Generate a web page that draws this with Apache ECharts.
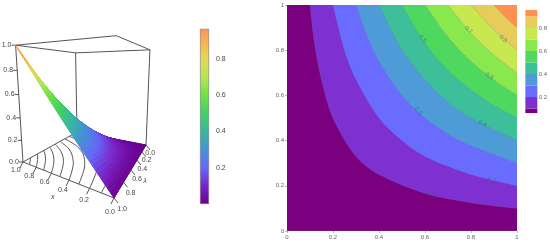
<!DOCTYPE html>
<html style="height: 100%">
<head>
<meta charset="utf-8">
<script type="text/javascript" src="https://cdn.jsdelivr.net/npm/echarts/dist/echarts.min.js"></script>
</head>
<body style="height: 100%; margin: 0; background: #fff">
<div id="main" style="width: 550px; height: 243px"></div>
<script type="text/javascript">
// values
var gridSteps = [0, 0.1, 0.2, 0.3, 0.4, 0.5, 0.6, 0.7, 0.8, 0.9, 1];
// surface height, rows = x, columns = y
var surfaceZ = [
  [0, 0, 0, 0, 0, 0, 0, 0, 0, 0, 0],
  [0, 0.01, 0.02, 0.03, 0.04, 0.05, 0.06, 0.07, 0.08, 0.09, 0.1],
  [0, 0.02, 0.04, 0.06, 0.08, 0.1, 0.12, 0.14, 0.16, 0.18, 0.2],
  [0, 0.03, 0.06, 0.09, 0.12, 0.15, 0.18, 0.21, 0.24, 0.27, 0.3],
  [0, 0.04, 0.08, 0.12, 0.16, 0.2, 0.24, 0.28, 0.32, 0.36, 0.4],
  [0, 0.05, 0.1, 0.15, 0.2, 0.25, 0.3, 0.35, 0.4, 0.45, 0.5],
  [0, 0.06, 0.12, 0.18, 0.24, 0.3, 0.36, 0.42, 0.48, 0.54, 0.6],
  [0, 0.07, 0.14, 0.21, 0.28, 0.35, 0.42, 0.49, 0.56, 0.63, 0.7],
  [0, 0.08, 0.16, 0.24, 0.32, 0.4, 0.48, 0.56, 0.64, 0.72, 0.8],
  [0, 0.09, 0.18, 0.27, 0.36, 0.45, 0.54, 0.63, 0.72, 0.81, 0.9],
  [0, 0.1, 0.2, 0.3, 0.4, 0.5, 0.6, 0.7, 0.8, 0.9, 1]
];
// contour curves [x, y]
var contour0 = [[0, 0], [1, 0]];
var contour1 = [[0.1, 1], [0.12, 0.83], [0.15, 0.67], [0.2, 0.5], [0.3, 0.33], [0.4, 0.25], [0.6, 0.167], [0.8, 0.125], [1, 0.1]];
var contour2 = [[0.2, 1], [0.25, 0.8], [0.3, 0.67], [0.4, 0.5], [0.5, 0.4], [0.6, 0.33], [0.8, 0.25], [1, 0.2]];
var contour3 = [[0.3, 1], [0.35, 0.86], [0.4, 0.75], [0.5, 0.6], [0.6, 0.5], [0.75, 0.4], [1, 0.3]];
var contour4 = [[0.4, 1], [0.5, 0.8], [0.6, 0.67], [0.7, 0.57], [0.8, 0.5], [1, 0.4]];
var contour5 = [[0.5, 1], [0.6, 0.83], [0.7, 0.71], [0.8, 0.625], [0.9, 0.555], [1, 0.5]];
var contour6 = [[0.6, 1], [0.7, 0.857], [0.8, 0.75], [0.9, 0.667], [1, 0.6]];
var contour7 = [[0.7, 1], [0.8, 0.875], [0.9, 0.778], [1, 0.7]];
var contour8 = [[0.8, 1], [0.9, 0.89], [1, 0.8]];
var contour9 = [[0.9, 1], [0.95, 0.947], [1, 0.9]];
var contours = [contour0, contour1, contour2, contour3, contour4, contour5, contour6, contour7, contour8, contour9];
var contourLabels = [[0.63, 0.16, '0.1'], [0.89, 0.225, '0.2'], [0.57, 0.53, '0.3'], [0.85, 0.475, '0.4'], [0.59, 0.85, '0.5'], [0.88, 0.685, '0.6'], [0.79, 0.89, '0.7'], [0.94, 0.85, '0.8']];
var tickValues = [0, 0.2, 0.4, 0.6, 0.8, 1];
var barBands = [0.06, 0.1, 0.2, 0.3, 0.4, 0.5, 0.6, 0.7, 0.8, 0.9, 0.957];
var colorbarTop = 0.965;

// colours
var bandColors = ['#7a0080', '#7f30d0', '#6a6cff', '#4f9bd8', '#3dc09a', '#4fd860', '#88e84e', '#c8e850', '#e6cc5a', '#ff9050'];
var ramp = ['#6b0090', '#7a25c8', '#6468f8', '#4593d4', '#38b8a0', '#44d068', '#70e045', '#b8e650', '#e4d858', '#f8b050', '#ff9050'];
var labelRot = [-15, -12, -50, -28, -50, -35, -40, -40];

var dom = document.getElementById('main');
var myChart = echarts.init(dom, null, { renderer: 'canvas' });

// perspective of the 3d box, fitted to its corners on screen
var O3 = [146, 145, 1], U3 = [-47.6, 23.7, 0.278], V3 = [-78.4, -27.6, -0.407], W3 = [-7.6, -99, -0.077], T3 = [0, -6.2, 0];
function project(x, y, z) {
  var h = [0, 1, 2].map(function (k) {
    return O3[k] + x * U3[k] + y * V3[k] + z * W3[k] + x * z * T3[k];
  });
  return [h[0] / h[2], h[1] / h[2]];
}
function colorOf(z) {
  return echarts.color.lerp(Math.min(z, 1), ramp);
}

var boxEdges = [
  [[1, 1, 0], [1, 0, 0]], [[1, 0, 0], [0, 0, 0]], [[1, 1, 0], [0, 1, 0]], [[0, 1, 0], [0, 0, 0]],
  [[1, 1, 0], [1, 1, 1]], [[1, 0, 0], [1, 0, 1]], [[0, 0, 0], [0, 0, 1]],
  [[1, 1, 1], [1, 0, 1]], [[1, 0, 1], [0, 0, 1]], [[0, 0, 1], [0, 1, 1]], [[0, 1, 1], [1, 1, 1]]
];
var lineStyle3d = { stroke: '#555', lineWidth: 1, fill: null };

function renderBox(params, api) {
  var e = boxEdges[params.dataIndex];
  var a = project(e[0][0], e[0][1], e[0][2]), b = project(e[1][0], e[1][1], e[1][2]);
  a = api.coord(a); b = api.coord(b);
  return { type: 'line', shape: { x1: a[0], y1: a[1], x2: b[0], y2: b[1] }, style: lineStyle3d };
}

function renderFloor(params, api) {
  var pts = contours[params.dataIndex + 1].map(function (p) {
    return api.coord(project(p[0], p[1], 0));
  });
  return { type: 'polyline', shape: { points: pts, smooth: 0.4 }, style: lineStyle3d };
}

// each table cell is shaded in small pieces so the colour runs smoothly
var SUB = 4;
function renderCell(params, api) {
  var i = api.value(0), j = api.value(1), kids = [];
  var z00 = surfaceZ[i][j], z10 = surfaceZ[i + 1][j], z01 = surfaceZ[i][j + 1], z11 = surfaceZ[i + 1][j + 1];
  var x0 = gridSteps[i], x1 = gridSteps[i + 1], y0 = gridSteps[j], y1 = gridSteps[j + 1];
  function pt(a, b) {
    var z = (1 - a) * (1 - b) * z00 + a * (1 - b) * z10 + (1 - a) * b * z01 + a * b * z11;
    return api.coord(project(x0 + a * (x1 - x0), y0 + b * (y1 - y0), z));
  }
  for (var m = SUB - 1; m >= 0; m--) {
    for (var n = 0; n < SUB; n++) {
      var a = m / SUB, b = n / SUB, d = 1 / SUB;
      var zm = (1 - a - d / 2) * (1 - b - d / 2) * z00 + (a + d / 2) * (1 - b - d / 2) * z10 + (1 - a - d / 2) * (b + d / 2) * z01 + (a + d / 2) * (b + d / 2) * z11;
      var c = colorOf(zm);
      kids.push({
        type: 'polygon',
        shape: { points: [pt(a, b), pt(a + d, b), pt(a + d, b + d), pt(a, b + d)] },
        style: { fill: c, stroke: c, lineWidth: 1, lineJoin: 'round' }
      });
    }
  }
  return { type: 'group', children: kids };
}

// axis ticks and labels of the 3d box
var ticks3d = [];
tickValues.forEach(function (v) {
  ticks3d.push({ from: [v, 1, 0], to: [-3, 6], at: [v, 1.12, 0], dx: 3, dy: 2, text: v.toFixed(1) });
  ticks3d.push({ from: [0, v, 0], to: [4, 5], at: [-0.08, v, 0], dx: -3, dy: 7, text: v.toFixed(1) });
  ticks3d.push({ from: [1, 1, v], to: [-4, 0], at: [1, 1, v], dx: -9, dy: 0, text: v.toFixed(1) });
});
function renderTick(params, api) {
  var t = ticks3d[params.dataIndex];
  var a = api.coord(project(t.from[0], t.from[1], t.from[2]));
  var l = api.coord(project(t.at[0], t.at[1], t.at[2]));
  return {
    type: 'group',
    children: [
      { type: 'line', shape: { x1: a[0], y1: a[1], x2: a[0] + t.to[0], y2: a[1] + t.to[1] }, style: lineStyle3d },
      { type: 'text', x: l[0] + t.dx, y: l[1] + t.dy, style: { text: t.text, fill: '#444', font: '7px "Liberation Sans"', align: 'center', verticalAlign: 'middle' } }
    ]
  };
}
var titles3d = [
  { at: [0.5, 1, 0], dx: -7, dy: 20, text: 'x' },
  { at: [0, 0.6, 0], dx: 14, dy: 11, text: 'λ' }
];
function renderTitle(params, api) {
  var t = titles3d[params.dataIndex];
  var l = api.coord(project(t.at[0], t.at[1], t.at[2]));
  return { type: 'text', x: l[0] + t.dx, y: l[1] + t.dy, style: { text: t.text, fill: '#444', font: 'italic 7px "Liberation Sans"', align: 'center', verticalAlign: 'middle' } };
}

var cells = [];
for (var i = gridSteps.length - 2; i >= 0; i--) {
  for (var j = 0; j < gridSteps.length - 1; j++) cells.push([i, j]);
}

var series = [
  { type: 'custom', xAxisIndex: 0, yAxisIndex: 0, clip: false, silent: true, renderItem: renderBox, data: boxEdges.map(function (e, k) { return [k]; }), z: 2 },
  { type: 'custom', xAxisIndex: 0, yAxisIndex: 0, clip: false, silent: true, renderItem: renderFloor, data: contours.slice(1).map(function (e, k) { return [k]; }), z: 2 },
  { type: 'custom', xAxisIndex: 0, yAxisIndex: 0, clip: false, silent: true, renderItem: renderTick, data: ticks3d.map(function (e, k) { return [k]; }), z: 2 },
  { type: 'custom', xAxisIndex: 0, yAxisIndex: 0, clip: false, silent: true, renderItem: renderTitle, data: titles3d.map(function (e, k) { return [k]; }), z: 2 },
  { type: 'custom', xAxisIndex: 0, yAxisIndex: 0, clip: false, silent: true, renderItem: renderCell, data: cells, encode: { x: 0, y: 1 }, z: 3 },
  // continuous colour bar
  {
    type: 'bar', xAxisIndex: 1, yAxisIndex: 1, barWidth: 9, silent: true,
    data: [colorbarTop],
    itemStyle: {
      borderColor: '#777', borderWidth: 0.6,
      color: new echarts.graphic.LinearGradient(0, 1, 0, 0, ramp.map(function (c, k) {
        return { offset: Math.min(gridSteps[k] / colorbarTop, 1), color: c };
      }))
    }
  }
];

// filled contour bands, each one painted from its curve up to the top edge
contours.forEach(function (c, k) {
  series.push({
    type: 'line', xAxisIndex: 2, yAxisIndex: 2, data: c, smooth: 0.3, showSymbol: false, silent: true,
    lineStyle: { width: 0.6, color: 'rgba(120,120,170,0.45)' },
    areaStyle: { origin: 'end', color: bandColors[k], opacity: 1 },
    z: 2 + k * 0.01
  });
});
series.push({
  type: 'scatter', xAxisIndex: 2, yAxisIndex: 2, symbolSize: 0, silent: true, z: 5,
  data: contourLabels.map(function (l, k) {
    return {
      value: [l[0], l[1]],
      label: { show: true, position: 'inside', formatter: l[2], rotate: labelRot[k], color: 'rgba(50,90,130,0.85)', fontSize: 6, fontFamily: 'Liberation Sans' }
    };
  })
});

// discrete colour bar of the contour plot
series.push({
  type: 'custom', xAxisIndex: 3, yAxisIndex: 3, silent: true, clip: false, z: 3,
  data: bandColors.map(function (c, k) { return [0, barBands[k], barBands[k + 1], k]; }),
  renderItem: function (params, api) {
    var lo = api.coord([0, api.value(1)]), hi = api.coord([0, api.value(2)]);
    return {
      type: 'rect',
      shape: { x: lo[0] - 6, y: hi[1], width: 12, height: lo[1] - hi[1] },
      style: { fill: bandColors[api.value(3)] }
    };
  },
  encode: { x: 0, y: [1, 2] }
});

var axisGrey = { color: '#666', fontSize: 6, fontFamily: 'Liberation Sans' };
var option = {
  animation: false,
  backgroundColor: '#fff',
  grid: [
    { left: 0, top: 0, width: 550, height: 243 },
    { left: 200, top: 22.5, width: 9, height: 181.5 },
    { left: 287, top: 5, width: 230, height: 226 },
    { left: 526, top: 5, width: 12, height: 115 }
  ],
  xAxis: [
    { gridIndex: 0, type: 'value', min: 0, max: 550, show: false },
    { gridIndex: 1, type: 'category', data: [''], show: false },
    {
      gridIndex: 2, type: 'value', min: 0, max: 1, interval: 0.2,
      splitLine: { show: false },
      axisLine: { show: false },
      axisTick: { length: 2, lineStyle: { color: '#888', width: 0.6 } },
      axisLabel: Object.assign({ margin: 3, formatter: function (v) { return String(+v.toFixed(1)); } }, axisGrey)
    },
    { gridIndex: 3, type: 'value', min: -1, max: 1, show: false }
  ],
  yAxis: [
    { gridIndex: 0, type: 'value', min: 0, max: 243, inverse: true, show: false },
    {
      gridIndex: 1, type: 'value', position: 'right', min: 0, max: 1, interval: 0.2,
      splitLine: { show: false },
      axisLine: { show: false },
      axisTick: { length: 4, lineStyle: { color: '#555', width: 0.8 }, customValues: [0.2, 0.4, 0.6, 0.8] },
      axisLabel: { margin: 7, color: '#444', fontSize: 7, fontFamily: 'Liberation Sans', customValues: [0.2, 0.4, 0.6, 0.8], formatter: function (v) { return v.toFixed(1); } }
    },
    {
      gridIndex: 2, type: 'value', min: 0, max: 1, interval: 0.2,
      splitLine: { show: false },
      axisLine: { show: false },
      axisTick: { length: 2, lineStyle: { color: '#888', width: 0.6 } },
      axisLabel: Object.assign({ margin: 3, formatter: function (v) { return String(+v.toFixed(1)); } }, axisGrey)
    },
    {
      gridIndex: 3, type: 'value', position: 'right', min: 0, max: 1, interval: 0.2,
      splitLine: { show: false },
      axisLine: { show: false },
      axisTick: { show: false },
      axisLabel: Object.assign({ margin: 2, customValues: [0.2, 0.4, 0.6, 0.8], formatter: function (v) { return v.toFixed(1); } }, axisGrey)
    }
  ],
  series: series
};
myChart.setOption(option);
</script>
</body>
</html>
